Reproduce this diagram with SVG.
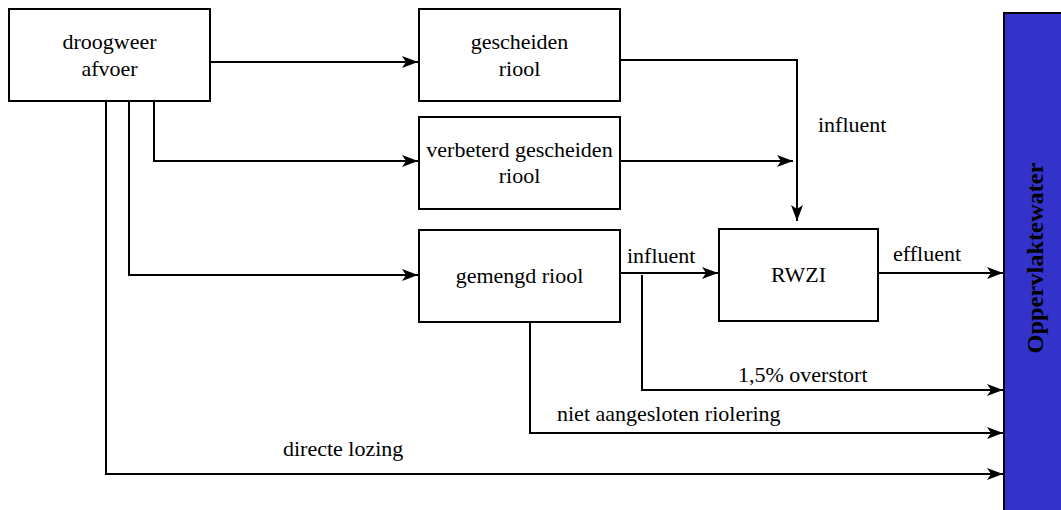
<svg xmlns="http://www.w3.org/2000/svg" width="1061" height="510" viewBox="0 0 1061 510">
  <style>
    .box { fill: #ffffff; stroke: #000000; stroke-width: 2; }
    .lbl { font-family: "Liberation Serif", "Times New Roman", serif; font-size: 22px; fill: #000000; }
    .title { font-family: "Liberation Serif", "Times New Roman", serif; font-size: 24px; font-weight: bold; fill: #000000; }
    .mid { text-anchor: middle; }
    .wire { fill: none; stroke: #000000; stroke-width: 2; }
    .arrow { marker-end: url(#head); }
  </style>
  <defs>
    <marker id="head" markerUnits="userSpaceOnUse" markerWidth="17" markerHeight="14" refX="16" refY="7" orient="auto">
      <path d="M0,1 L16,7 L0,13 L4,7 Z" fill="#000000"/>
    </marker>
  </defs>

  <rect width="1061" height="510" fill="#ffffff"/>

  <!-- receiving water -->
  <g id="oppervlaktewater">
    <rect x="1004" y="13" width="70" height="510" fill="#3333cc" stroke="#000000" stroke-width="2"/>
    <text class="title mid" transform="translate(1043,258) rotate(-90)" textLength="191" lengthAdjust="spacingAndGlyphs">Oppervlaktewater</text>
  </g>

  <g id="droogweer-afvoer">
    <rect class="box" x="9" y="9" width="201" height="92"/>
    <text class="lbl mid" x="109.5" y="49">droogweer</text>
    <text class="lbl mid" x="109.5" y="76">afvoer</text>
  </g>

  <g id="gescheiden-riool">
    <rect class="box" x="419" y="9" width="201" height="92"/>
    <text class="lbl mid" x="519.5" y="49">gescheiden</text>
    <text class="lbl mid" x="519.5" y="76">riool</text>
  </g>

  <g id="verbeterd-gescheiden-riool">
    <rect class="box" x="419" y="117" width="201" height="92"/>
    <text class="lbl mid" x="519.5" y="157">verbeterd gescheiden</text>
    <text class="lbl mid" x="519.5" y="183">riool</text>
  </g>

  <g id="gemengd-riool">
    <rect class="box" x="419" y="230" width="201" height="92"/>
    <text class="lbl mid" x="519.5" y="283">gemengd riool</text>
  </g>

  <g id="rwzi">
    <rect class="box" x="719" y="229" width="159" height="92"/>
    <text class="lbl mid" x="798.5" y="282">RWZI</text>
  </g>

  <!-- flows -->
  <g id="connectors">
    <path class="wire arrow" d="M210,62 H418"/>
    <path class="wire arrow" d="M154,101 V161 H418"/>
    <path class="wire arrow" d="M129,101 V275 H418"/>
    <path class="wire arrow" d="M106,101 V474 H1003"/>
    <path class="wire arrow" d="M620,60 H797 V221"/>
    <path class="wire arrow" d="M620,161 H793"/>
    <path class="wire arrow" d="M620,273 H718"/>
    <path class="wire arrow" d="M642,275 V390 H1003"/>
    <path class="wire arrow" d="M878,273 H1003"/>
    <path class="wire arrow" d="M530,322 V433 H1003"/>

    <text class="lbl" x="818" y="132">influent</text>
    <text class="lbl" x="627" y="263">influent</text>
    <text class="lbl" x="893" y="261">effluent</text>
    <text class="lbl" x="738" y="382">1,5% overstort</text>
    <text class="lbl" x="557" y="421">niet aangesloten riolering</text>
    <text class="lbl" x="283" y="456">directe lozing</text>
  </g>
</svg>
